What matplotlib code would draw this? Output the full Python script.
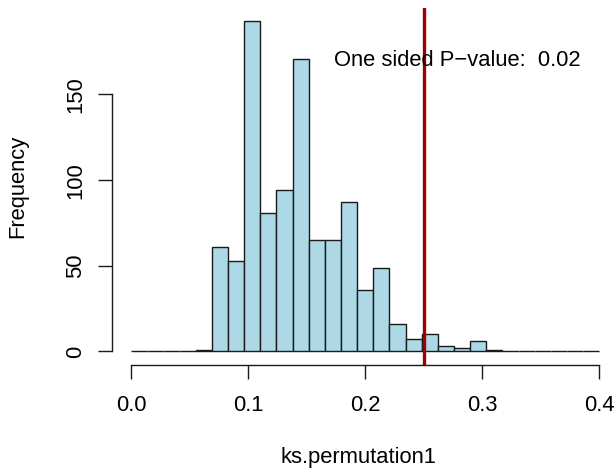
import numpy as np
import matplotlib
matplotlib.use("Agg")
import matplotlib.pyplot as plt

plt.rcParams['font.family'] = ['Liberation Sans', 'DejaVu Sans']

# histogram data (29 bins from 0 to 0.4)
bin_edges = np.linspace(0.0, 0.4, 30)
counts = [0, 0, 0, 0, 1, 61, 53, 193, 81, 94, 171, 65, 65, 87, 36, 49, 16, 7,
          10, 3, 2, 6, 1, 0, 0, 0, 0, 0, 0]
observed = 0.25
p_label = "One sided P\u2212value:  0.02"
x_ticks = [0.0, 0.1, 0.2, 0.3, 0.4]
x_ticklabels = ["0.0", "0.1", "0.2", "0.3", "0.4"]
y_ticks = [0, 50, 100, 150]

FS = 15.8
W, H = 616, 472
fig = plt.figure(figsize=(W / 100, H / 100), dpi=100)
left, right, top, bottom = 112.3, 616.0, 7.6, 364.7
ax = fig.add_axes([left / W, 1 - bottom / H, (right - left) / W, (bottom - top) / H])

widths = np.diff(bin_edges)
ax.bar(bin_edges[:-1], counts, width=widths, align='edge', color='#ADD8E6',
       edgecolor='#1a1a1a', linewidth=1.0)
ax.axvline(observed, color='#A00000', linewidth=2.4)
ax.text(0.279, 170, p_label, ha='center', va='center', fontsize=FS)

px_per_unit = 1170.8
x0 = -0.016
ax.set_xlim(x0, x0 + (right - left) / px_per_unit)
ax.set_ylim(-7.72, 200.72)

for s in ['top', 'right']:
    ax.spines[s].set_visible(False)
ax.spines['left'].set_bounds(0, 150)
ax.spines['bottom'].set_bounds(0, 0.4)
for s in ['left', 'bottom']:
    ax.spines[s].set_linewidth(1.0)
    ax.spines[s].set_color('#1a1a1a')

ax.set_xticks(x_ticks)
ax.set_xticklabels(x_ticklabels, fontsize=FS)
ax.set_yticks(y_ticks)
ax.set_yticklabels([str(v) for v in y_ticks], fontsize=FS, rotation=90, va='center')
ax.tick_params(axis='both', length=10, width=1.0, color='#1a1a1a')
ax.tick_params(axis='x', pad=12)
ax.tick_params(axis='y', pad=9)

fig.text(359 / W, 1 - 457 / H, "ks.permutation1", ha='center', va='center', fontsize=FS)
fig.text(17.5 / W, 1 - 186.5 / H, "Frequency", ha='center', va='center', rotation=90, fontsize=FS)

fig.savefig("out.png", dpi=100)
